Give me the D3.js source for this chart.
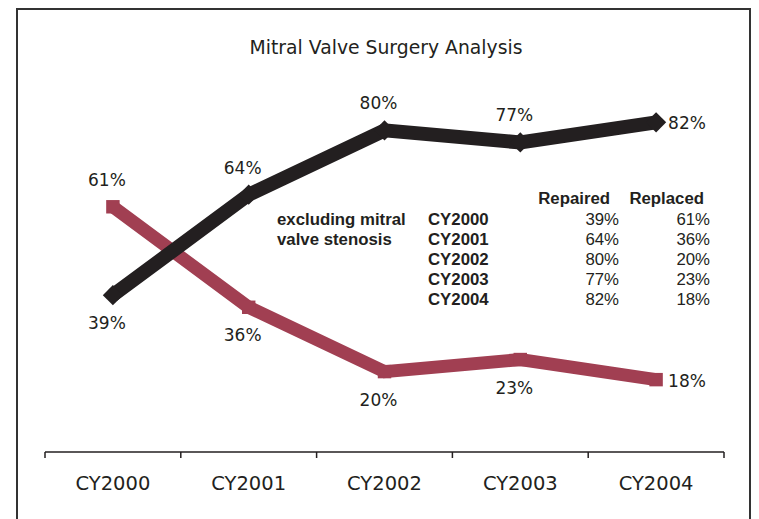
<!DOCTYPE html>
<html>
<head>
<meta charset="utf-8">
<script src="https://cdn.jsdelivr.net/npm/d3@7"></script>
<style>
  body { margin: 0; background: #fff; }
  svg { display: block; }
</style>
</head>
<body>
<svg id="chart"></svg>
<script>
// Data ************************************************************
const years = ["CY2000", "CY2001", "CY2002", "CY2003", "CY2004"];
const repaired = [39, 64, 80, 77, 82];
const replaced = [61, 36, 20, 23, 18];
// label placement per point: "above", "below", "right"
const repairedLabelPos = ["below", "above", "above", "above", "right"];
const replacedLabelPos = ["above", "below", "below", "below", "right"];

const width = 759, height = 519;
const svg = d3.select("#chart").attr("width", width).attr("height", height);

const axisFont = "'DejaVu Sans', sans-serif";
const tableFont = "'Liberation Sans', Arial, sans-serif";

// Frame round the chart (bottom runs off the page)
svg.append("path")
    .attr("d", `M17,${height + 5} V9 H750 V${height + 5}`)
    .attr("fill", "none")
    .attr("stroke", "#333")
    .attr("stroke-width", 2);

// Title
svg.append("text")
    .attr("x", 386).attr("y", 54)
    .attr("text-anchor", "middle")
    .style("font-family", axisFont)
    .style("font-size", "18.8px")
    .style("fill", "#231f20")
    .text("Mitral Valve Surgery Analysis");

// Scales
const x = d3.scaleBand().domain(years).range([45, 724]);
const y = d3.scaleLinear().domain([0, 100]).range([452, 50]);
const cx = d => x(d) + x.bandwidth() / 2;

// X axis: ticks on band edges, pointing down
const xAxis = svg.append("g").attr("transform", "translate(0,452)");
xAxis.append("line")
    .attr("x1", 45).attr("x2", 724)
    .attr("stroke", "#231f20").attr("stroke-width", 1.5);
const edges = years.map(d => x(d)).concat([x(years[years.length - 1]) + x.bandwidth()]);
xAxis.selectAll(".tick").data(edges).enter().append("line")
    .attr("x1", d => d).attr("x2", d => d)
    .attr("y1", 0).attr("y2", 6)
    .attr("stroke", "#231f20").attr("stroke-width", 1.5);
xAxis.selectAll(".lbl").data(years).enter().append("text")
    .attr("x", d => cx(d)).attr("y", 38)
    .attr("text-anchor", "middle")
    .style("font-family", axisFont)
    .style("font-size", "19.5px")
    .style("fill", "#231f20")
    .text(d => d);

// Lines
const line = d3.line().x((d, i) => cx(years[i])).y(d => y(d));

function drawSeries(values, color, strokeW, marker, labelPos) {
    svg.append("path")
        .datum(values)
        .attr("d", line)
        .attr("fill", "none")
        .attr("stroke", color)
        .attr("stroke-width", strokeW)
        .attr("stroke-linejoin", "miter");

    svg.selectAll(null).data(values).enter().append("path")
        .attr("transform", (d, i) => `translate(${cx(years[i])},${y(d)})`)
        .attr("d", marker === "diamond"
            ? d3.symbol().type(d3.symbolDiamond2).size(260)
            : d3.symbol().type(d3.symbolSquare2).size(230))
        .attr("fill", color);

    svg.selectAll(null).data(values).enter().append("text")
        .attr("x", (d, i) => labelPos[i] === "right" ? cx(years[i]) + 12 : cx(years[i]) - 6)
        .attr("y", (d, i) => {
            const p = labelPos[i];
            if (p === "above") return y(d) - 21;
            if (p === "below") return y(d) + 34;
            return y(d) + 7;
        })
        .attr("text-anchor", (d, i) => labelPos[i] === "right" ? "start" : "middle")
        .style("font-family", axisFont)
        .style("font-size", "17px")
        .style("fill", "#231f20")
        .text(d => d + "%");
}

drawSeries(replaced, "#a13f52", 13, "square", replacedLabelPos);
drawSeries(repaired, "#231f20", 14, "diamond", repairedLabelPos);

// Data table inside the plot
const table = svg.append("g").style("font-family", tableFont).style("font-size", "16.8px").style("fill", "#231f20");
table.append("text").attr("x", 610).attr("y", 204).attr("text-anchor", "end")
    .style("font-weight", "bold").text("Repaired");
table.append("text").attr("x", 704).attr("y", 204).attr("text-anchor", "end")
    .style("font-weight", "bold").text("Replaced");
years.forEach((yr, i) => {
    const by = 225 + i * 20;
    table.append("text").attr("x", 428).attr("y", by).style("font-weight", "bold").text(yr);
    table.append("text").attr("x", 619).attr("y", by).attr("text-anchor", "end").text(repaired[i] + "%");
    table.append("text").attr("x", 710).attr("y", by).attr("text-anchor", "end").text(replaced[i] + "%");
});
table.append("text").attr("x", 277).attr("y", 225).style("font-weight", "bold").text("excluding mitral");
table.append("text").attr("x", 277).attr("y", 245).style("font-weight", "bold").text("valve stenosis");
</script>
</body>
</html>
